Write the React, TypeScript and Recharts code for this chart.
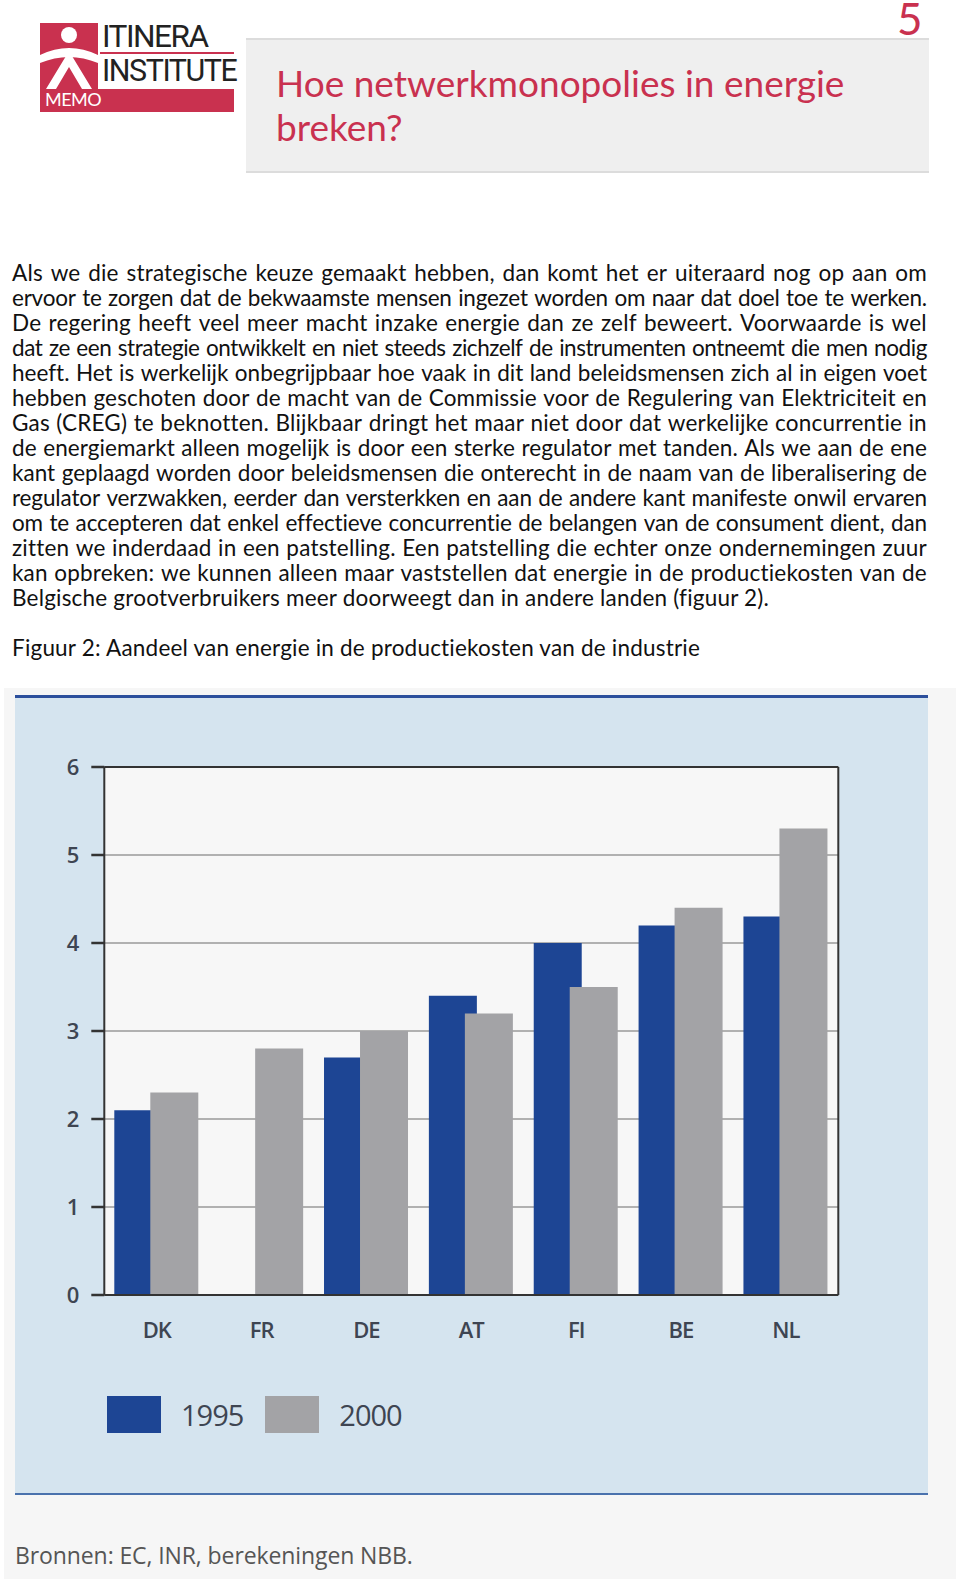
import React from 'react';
import { BarChart, Bar, XAxis, YAxis, CartesianGrid, Legend, ReferenceLine } from 'recharts';

const countries = ['DK', 'FR', 'DE', 'AT', 'FI', 'BE', 'NL'];
const values1995: (number | null)[] = [2.1, null, 2.7, 3.4, 4.0, 4.2, 4.3];
const values2000: number[] = [2.3, 2.8, 3.0, 3.2, 3.5, 4.4, 5.3];
const yTicks = [0, 1, 2, 3, 4, 5, 6];
const seriesNames = ['1995', '2000'];

const BLUE = '#1d4594';
const GRAY = '#a3a3a6';
const RED = '#c9314f';

const data = countries.map((c, i) => ({ country: c, v1995: values1995[i], v2000: values2000[i] }));

const paragraphLines = [
  'Als we die strategische keuze gemaakt hebben, dan komt het er uiteraard nog op aan om',
  'ervoor te zorgen dat de bekwaamste mensen ingezet worden om naar dat doel toe te werken.',
  'De regering heeft veel meer macht inzake energie dan ze zelf beweert. Voorwaarde is wel',
  'dat ze een strategie ontwikkelt en niet steeds zichzelf de instrumenten ontneemt die men nodig',
  'heeft. Het is werkelijk onbegrijpbaar hoe vaak in dit land beleidsmensen zich al in eigen voet',
  'hebben geschoten door de macht van de Commissie voor de Regulering van Elektriciteit en',
  'Gas (CREG) te beknotten. Blijkbaar dringt het maar niet door dat werkelijke concurrentie in',
  'de energiemarkt alleen mogelijk is door een sterke regulator met tanden. Als we aan de ene',
  'kant geplaagd worden door beleidsmensen die onterecht in de naam van de liberalisering de',
  'regulator verzwakken, eerder dan versterkken en aan de andere kant manifeste onwil ervaren',
  'om te accepteren dat enkel effectieve concurrentie de belangen van de consument dient, dan',
  'zitten we inderdaad in een patstelling. Een patstelling die echter onze ondernemingen zuur',
  'kan opbreken: we kunnen alleen maar vaststellen dat energie in de productiekosten van de',
];
const lastLine = 'Belgische grootverbruikers meer doorweegt dan in andere landen (figuur 2).';
const caption = 'Figuur 2: Aandeel van energie in de productiekosten van de industrie';

const bodyFont = "Lato, 'Noto Sans', sans-serif";
const chartFont = "'Open Sans', 'Noto Sans', sans-serif";
const TEXT_W = 915;
const BODY_FS = 22.5;
const BODY_LS = 0.2;
const MIN_GAP = 6.5;

let measureCtx: CanvasRenderingContext2D | null = null;
const measure = (t: string) => {
  if (!measureCtx) {
    const c = document.createElement('canvas');
    measureCtx = c.getContext('2d');
  }
  if (!measureCtx) return t.length * BODY_FS * 0.45;
  measureCtx.font = `${BODY_FS}px Lato`;
  return measureCtx.measureText(t).width;
};

const lineSpacing = (line: string) => {
  const words = line.split(' ');
  const chars = words.reduce((s, w) => s + w.length, 0);
  const wordsW = words.reduce((s, w) => s + measure(w), 0);
  const need = wordsW + chars * BODY_LS + (words.length - 1) * MIN_GAP;
  if (need <= TEXT_W) return BODY_LS;
  return BODY_LS - (need - TEXT_W) / chars;
};

const LegendContent = () => (
  <div style={{ display: 'flex', alignItems: 'center', height: 40, fontFamily: chartFont }}>
    {seriesNames.map((n, i) => (
      <div key={n} style={{ display: 'flex', alignItems: 'center' }}>
        <div style={{ width: 54, height: 37, background: i === 0 ? BLUE : GRAY, marginRight: 20 }} />
        <span style={{ fontSize: 29, color: '#3e4552', letterSpacing: -1, marginRight: i === 0 ? 22 : 0 }}>{n}</span>
      </div>
    ))}
  </div>
);

const Logo = () => (
  <div style={{ position: 'absolute', left: 40, top: 23, width: 194, height: 89 }}>
    <svg width={194} height={89} style={{ position: 'absolute', left: 0, top: 0 }}>
      <rect x={0} y={0} width={58} height={66} fill={RED} />
      <circle cx={29} cy={12} r={8} fill="#fff" />
      <path d="M0 32 Q29 18 58 32 L58 40 Q29 28 0 40 Z" fill="#fff" />
      <path d="M6 66 L26 33 L32 33 L52 66 L42 66 L29 44 L16 66 Z" fill="#fff" />
      <rect x={60} y={29} width={134} height={2} fill={RED} />
      <rect x={0} y={66} width={194} height={23} fill={RED} />
    </svg>
    <div style={{ position: 'absolute', left: 62, top: 0, fontFamily: "'Liberation Sans Narrow', 'Roboto', sans-serif", fontSize: 31, lineHeight: '27px', color: '#222', letterSpacing: -1.5, transform: 'scaleX(1.02)', transformOrigin: 'left', whiteSpace: 'nowrap' }}>ITINERA</div>
    <div style={{ position: 'absolute', left: 62, top: 33, fontFamily: "'Liberation Sans Narrow', 'Roboto', sans-serif", fontSize: 32, lineHeight: '28px', color: '#222', letterSpacing: -1.5, transform: 'scaleX(0.95)', transformOrigin: 'left', whiteSpace: 'nowrap' }}>INSTITUTE</div>
    <div style={{ position: 'absolute', left: 5, top: 65, fontFamily: bodyFont, fontSize: 18, color: '#fff', lineHeight: '23px', letterSpacing: -0.5 }}>MEMO</div>
  </div>
);

export default function App() {
  return (
    <div style={{ position: 'absolute', left: 0, top: 0, width: 960, height: 1579, background: '#fff', overflow: 'hidden' }}>
      <Logo />
      <div style={{ position: 'absolute', left: 246, top: 38, width: 683, height: 131, background: '#efefef', borderTop: '2px solid #dcdcdc', borderBottom: '2px solid #dcdcdc' }} />
      <div style={{ position: 'absolute', left: 276, top: 61, fontFamily: bodyFont, fontSize: 37, color: RED, lineHeight: '44px', letterSpacing: 0 }}>
        Hoe netwerkmonopolies in energie<br />breken?
      </div>
      <div style={{ position: 'absolute', left: 897, top: 0, fontFamily: bodyFont, fontSize: 44, lineHeight: '36px', color: RED }}>5</div>

      <div style={{ position: 'absolute', left: 12, top: 260, width: TEXT_W, fontFamily: bodyFont, fontSize: BODY_FS, color: '#111', lineHeight: '25px' }}>
        {paragraphLines.map((line, i) => (
          <div key={i} style={{ display: 'flex', justifyContent: 'space-between', height: 25, whiteSpace: 'nowrap', letterSpacing: lineSpacing(line) }}>
            {line.split(' ').map((w, j) => (
              <span key={j}>{w}</span>
            ))}
          </div>
        ))}
        <div style={{ height: 25, whiteSpace: 'nowrap', letterSpacing: BODY_LS }}>{lastLine}</div>
        <div style={{ height: 25 }} />
        <div style={{ height: 25, whiteSpace: 'nowrap', letterSpacing: BODY_LS }}>{caption}</div>
      </div>

      <div style={{ position: 'absolute', left: 4, top: 688, width: 952, height: 891, background: '#f6f6f6' }} />
      <div style={{ position: 'absolute', left: 15, top: 695, width: 913, height: 795, background: '#d5e4ef', borderTop: '3px solid #2c4f9c', borderBottom: '2px solid #4a72ad' }} />

      <div style={{ position: 'absolute', left: 0, top: 700, width: 960, height: 790 }}>
        <BarChart
          width={960}
          height={790}
          data={data}
          margin={{ top: 67, right: 0, bottom: 115, left: 0 }}
          barSize={48}
          barGap={-12}
          style={{ fontFamily: chartFont }}
        >
          <CartesianGrid vertical={false} stroke="#9a9a9a" strokeWidth={1.5} fill="#f7f7f7" fillOpacity={1} yAxisId="left" />
          <XAxis
            dataKey="country"
            axisLine={{ stroke: '#333', strokeWidth: 2 }}
            tickLine={false}
            tickSize={0}
            tickMargin={27}
            height={40}
            tick={{ fontSize: 22, fill: '#3e4552', letterSpacing: -1, fontWeight: 600 }}
          />
          <YAxis
            yAxisId="left"
            orientation="left"
            width={104.3}
            domain={[0, 6]}
            ticks={yTicks}
            tickSize={13}
            tickMargin={12}
            axisLine={{ stroke: '#333', strokeWidth: 2 }}
            tickLine={{ stroke: '#333', strokeWidth: 2.5 }}
            tick={{ fontSize: 22, fill: '#3e4552', fontWeight: 600 }}
          />
          <YAxis
            yAxisId="right"
            orientation="right"
            width={121.7}
            domain={[0, 6]}
            ticks={yTicks}
            tickSize={13}
            tickMargin={10}
            axisLine={{ stroke: '#333', strokeWidth: 2 }}
            tickLine={{ stroke: '#333', strokeWidth: 2.5 }}
            tick={{ fontSize: 22, fill: '#3e4552', fontWeight: 600 }}
          />
          <ReferenceLine yAxisId="left" y={6} stroke="#333" strokeWidth={2} />
          <Bar yAxisId="left" dataKey="v1995" name={seriesNames[0]} fill={BLUE} isAnimationActive={false} />
          <Bar yAxisId="left" dataKey="v2000" name={seriesNames[1]} fill={GRAY} isAnimationActive={false} />
          <Legend
            verticalAlign="bottom"
            align="left"
            content={<LegendContent />}
            wrapperStyle={{ left: 107, top: 694, width: 400, height: 40 }}
          />
        </BarChart>
      </div>

      <div style={{ position: 'absolute', left: 15, top: 1539, fontFamily: chartFont, fontSize: 23, color: '#555', letterSpacing: -0.1, whiteSpace: 'nowrap' }}>
        Bronnen: EC, INR, berekeningen NBB.
      </div>
    </div>
  );
}
